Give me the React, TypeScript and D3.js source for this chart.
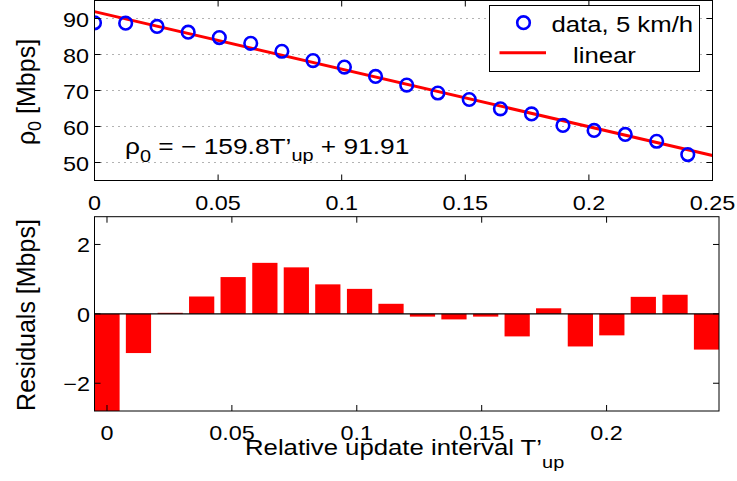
import React from 'react';
import * as d3 from 'd3';

// measured data (relative update interval vs throughput)
const intervals = [0, 0.0126, 0.0253, 0.0379, 0.0505, 0.0632, 0.0758, 0.0884, 0.1011, 0.1137,
  0.1263, 0.1389, 0.1516, 0.1642, 0.1768, 0.1895, 0.2021, 0.2147, 0.2274, 0.24];
const rho = [88.8, 88.7, 87.8, 86.2, 84.7, 83.1, 80.9, 78.3, 76.5, 73.9,
  71.5, 69.3, 67.5, 64.9, 63.5, 60.3, 58.9, 57.8, 55.9, 52.2];
const residuals = [-3.1, -1.13, 0.03, 0.5, 1.06, 1.47, 1.34, 0.85, 0.72, 0.29,
  -0.08, -0.16, -0.08, -0.65, 0.16, -0.94, -0.62, 0.49, 0.55, -1.03];

// linear fit
const fitSlope = -159.8;
const fitIntercept = 91.91;
const fitRange = [0, 0.25];

const topXTicks = [0, 0.05, 0.1, 0.15, 0.2, 0.25];
const topYTicks = [50, 60, 70, 80, 90];
const botXTicks = [0, 0.05, 0.1, 0.15, 0.2];
const botYTicks = [-2, 0, 2];
const barWidth = 0.0101;

const FONT = '"Liberation Sans", Arial, Helvetica, sans-serif';
const SX = 1.17;

const fmt = (v: number) => (v < 0 ? '\u2212' + Math.abs(v) : String(v));

function Txt({ x, y, size = 20, anchor = 'start', children }: any) {
  return (
    <text transform={`translate(${x},${y}) scale(${SX},1)`} fontSize={size} textAnchor={anchor}
      fontFamily={FONT} fill="#000">
      {children}
    </text>
  );
}

export default function App() {
  const W = 737, H = 481;

  const xTop = d3.scaleLinear().domain([0, 0.25]).range([94.5, 712.5]);
  const yTop = d3.scaleLinear().domain([45, 95]).range([180.5, 0.5]);

  const xBot = d3.scaleLinear().domain([-0.005, 0.245]).range([94.5, 719]);
  const yBot = d3.scaleLinear().domain([-2.8, 2.8]).range([411, 216.7]);

  const fitLine = d3.line<number>()
    .x(d => xTop(d))
    .y(d => yTop(fitSlope * d + fitIntercept));

  const tk = 6;
  const [tx0, tx1] = xTop.range();
  const [ty0, ty1] = yTop.range();
  const [bx0, bx1] = xBot.range();
  const [by0, by1] = yBot.range();

  return (
    <div style={{ position: 'fixed', left: 0, top: 0, width: W, height: H, background: '#fff' }}>
      <svg width={W} height={H} style={{ display: 'block' }}>
        <defs>
          <clipPath id="topClip"><rect x={tx0} y={ty1} width={tx1 - tx0} height={ty0 - ty1} /></clipPath>
          <clipPath id="botClip"><rect x={bx0} y={by1} width={bx1 - bx0} height={by0 - by1} /></clipPath>
        </defs>

        {/* ---------- top panel ---------- */}
        <rect x={tx0} y={ty1} width={tx1 - tx0} height={ty0 - ty1} fill="#fff" />
        {topYTicks.map(t => (
          <line key={'g' + t} x1={tx0} x2={tx1} y1={yTop(t)} y2={yTop(t)}
            stroke="#666" strokeWidth={1} strokeDasharray="1,5" />
        ))}
        <g clipPath="url(#topClip)">
          <path d={fitLine(fitRange) || ''} stroke="#ff0000" strokeWidth={3} fill="none" />
          {intervals.map((x, i) => (
            <circle key={i} cx={xTop(x)} cy={yTop(rho[i])} r={6.3}
              fill="none" stroke="#0000ff" strokeWidth={2.6} />
          ))}
        </g>
        <rect x={tx0} y={ty1} width={tx1 - tx0} height={ty0 - ty1} fill="none" stroke="#000" strokeWidth={1} />
        {topXTicks.map(t => (
          <g key={'tx' + t}>
            <line x1={xTop(t)} x2={xTop(t)} y1={ty0} y2={ty0 - tk} stroke="#000" />
            <line x1={xTop(t)} x2={xTop(t)} y1={ty1} y2={ty1 + tk} stroke="#000" />
            <Txt x={xTop(t)} y={ty0 + 29.5} anchor="middle">{t}</Txt>
          </g>
        ))}
        {topYTicks.map(t => (
          <g key={'ty' + t}>
            <line x1={tx0} x2={tx0 + tk} y1={yTop(t)} y2={yTop(t)} stroke="#000" />
            <line x1={tx1} x2={tx1 - tk} y1={yTop(t)} y2={yTop(t)} stroke="#000" />
            <Txt x={89} y={yTop(t) + 8} anchor="end">{t}</Txt>
          </g>
        ))}
        <text transform="translate(35,92) rotate(-90)" fontSize={25} textAnchor="middle" fontFamily={FONT}>
          ρ<tspan fontSize={18} dy={6}>0</tspan><tspan dy={-6}> [Mbps]</tspan>
        </text>

        {/* fit equation */}
        <Txt x={125} y={153.5} size={22.5}>
          ρ<tspan fontSize={17} dy={8}>0</tspan>
          <tspan dy={-8}> = − 159.8T’</tspan>
          <tspan fontSize={17} dy={7}>up</tspan>
          <tspan dy={-7}> + 91.91</tspan>
        </Txt>

        {/* legend */}
        <rect x={489.5} y={5.5} width={210} height={66} fill="#fff" stroke="#000" strokeWidth={1} />
        <circle cx={523.5} cy={22.7} r={6.3} fill="none" stroke="#0000ff" strokeWidth={2.6} />
        <Txt x={551.5} y={31.5} size={22}>data, 5 km/h</Txt>
        <line x1={499.5} x2={546} y1={52.7} y2={52.7} stroke="#ff0000" strokeWidth={3} />
        <Txt x={573} y={63.3} size={22}>linear</Txt>

        {/* ---------- bottom panel ---------- */}
        <g clipPath="url(#botClip)">
          {intervals.map((x, i) => {
            const r = residuals[i];
            const y0 = yBot(Math.max(0, r));
            const y1 = yBot(Math.min(0, r));
            const xl = xBot(x - barWidth / 2);
            const xr = xBot(x + barWidth / 2);
            return <rect key={i} x={xl} y={y0} width={xr - xl} height={y1 - y0} fill="#ff0000" />;
          })}
        </g>
        <line x1={bx0} x2={bx1} y1={yBot(0)} y2={yBot(0)} stroke="#000" strokeWidth={1.2} />
        <rect x={bx0} y={by1} width={bx1 - bx0} height={by0 - by1} fill="none" stroke="#000" strokeWidth={1} />
        {botXTicks.map(t => (
          <g key={'bx' + t}>
            <line x1={xBot(t)} x2={xBot(t)} y1={by0} y2={by0 - tk} stroke="#000" />
            <line x1={xBot(t)} x2={xBot(t)} y1={by1} y2={by1 + tk} stroke="#000" />
            <Txt x={xBot(t)} y={by0 + 29} anchor="middle">{t}</Txt>
          </g>
        ))}
        {botYTicks.map(t => (
          <g key={'by' + t}>
            <line x1={bx0} x2={bx0 + tk} y1={yBot(t)} y2={yBot(t)} stroke="#000" />
            <line x1={bx1} x2={bx1 - tk} y1={yBot(t)} y2={yBot(t)} stroke="#000" />
            <Txt x={90} y={yBot(t) + 8} anchor="end">{fmt(t)}</Txt>
          </g>
        ))}
        <text transform="translate(35,315) rotate(-90)" fontSize={25} textAnchor="middle" fontFamily={FONT}>
          Residuals [Mbps]
        </text>

        <Txt x={245} y={454.5} size={22}>
          Relative update interval T’<tspan fontSize={17} dy={13}>up</tspan>
        </Txt>
      </svg>
    </div>
  );
}
